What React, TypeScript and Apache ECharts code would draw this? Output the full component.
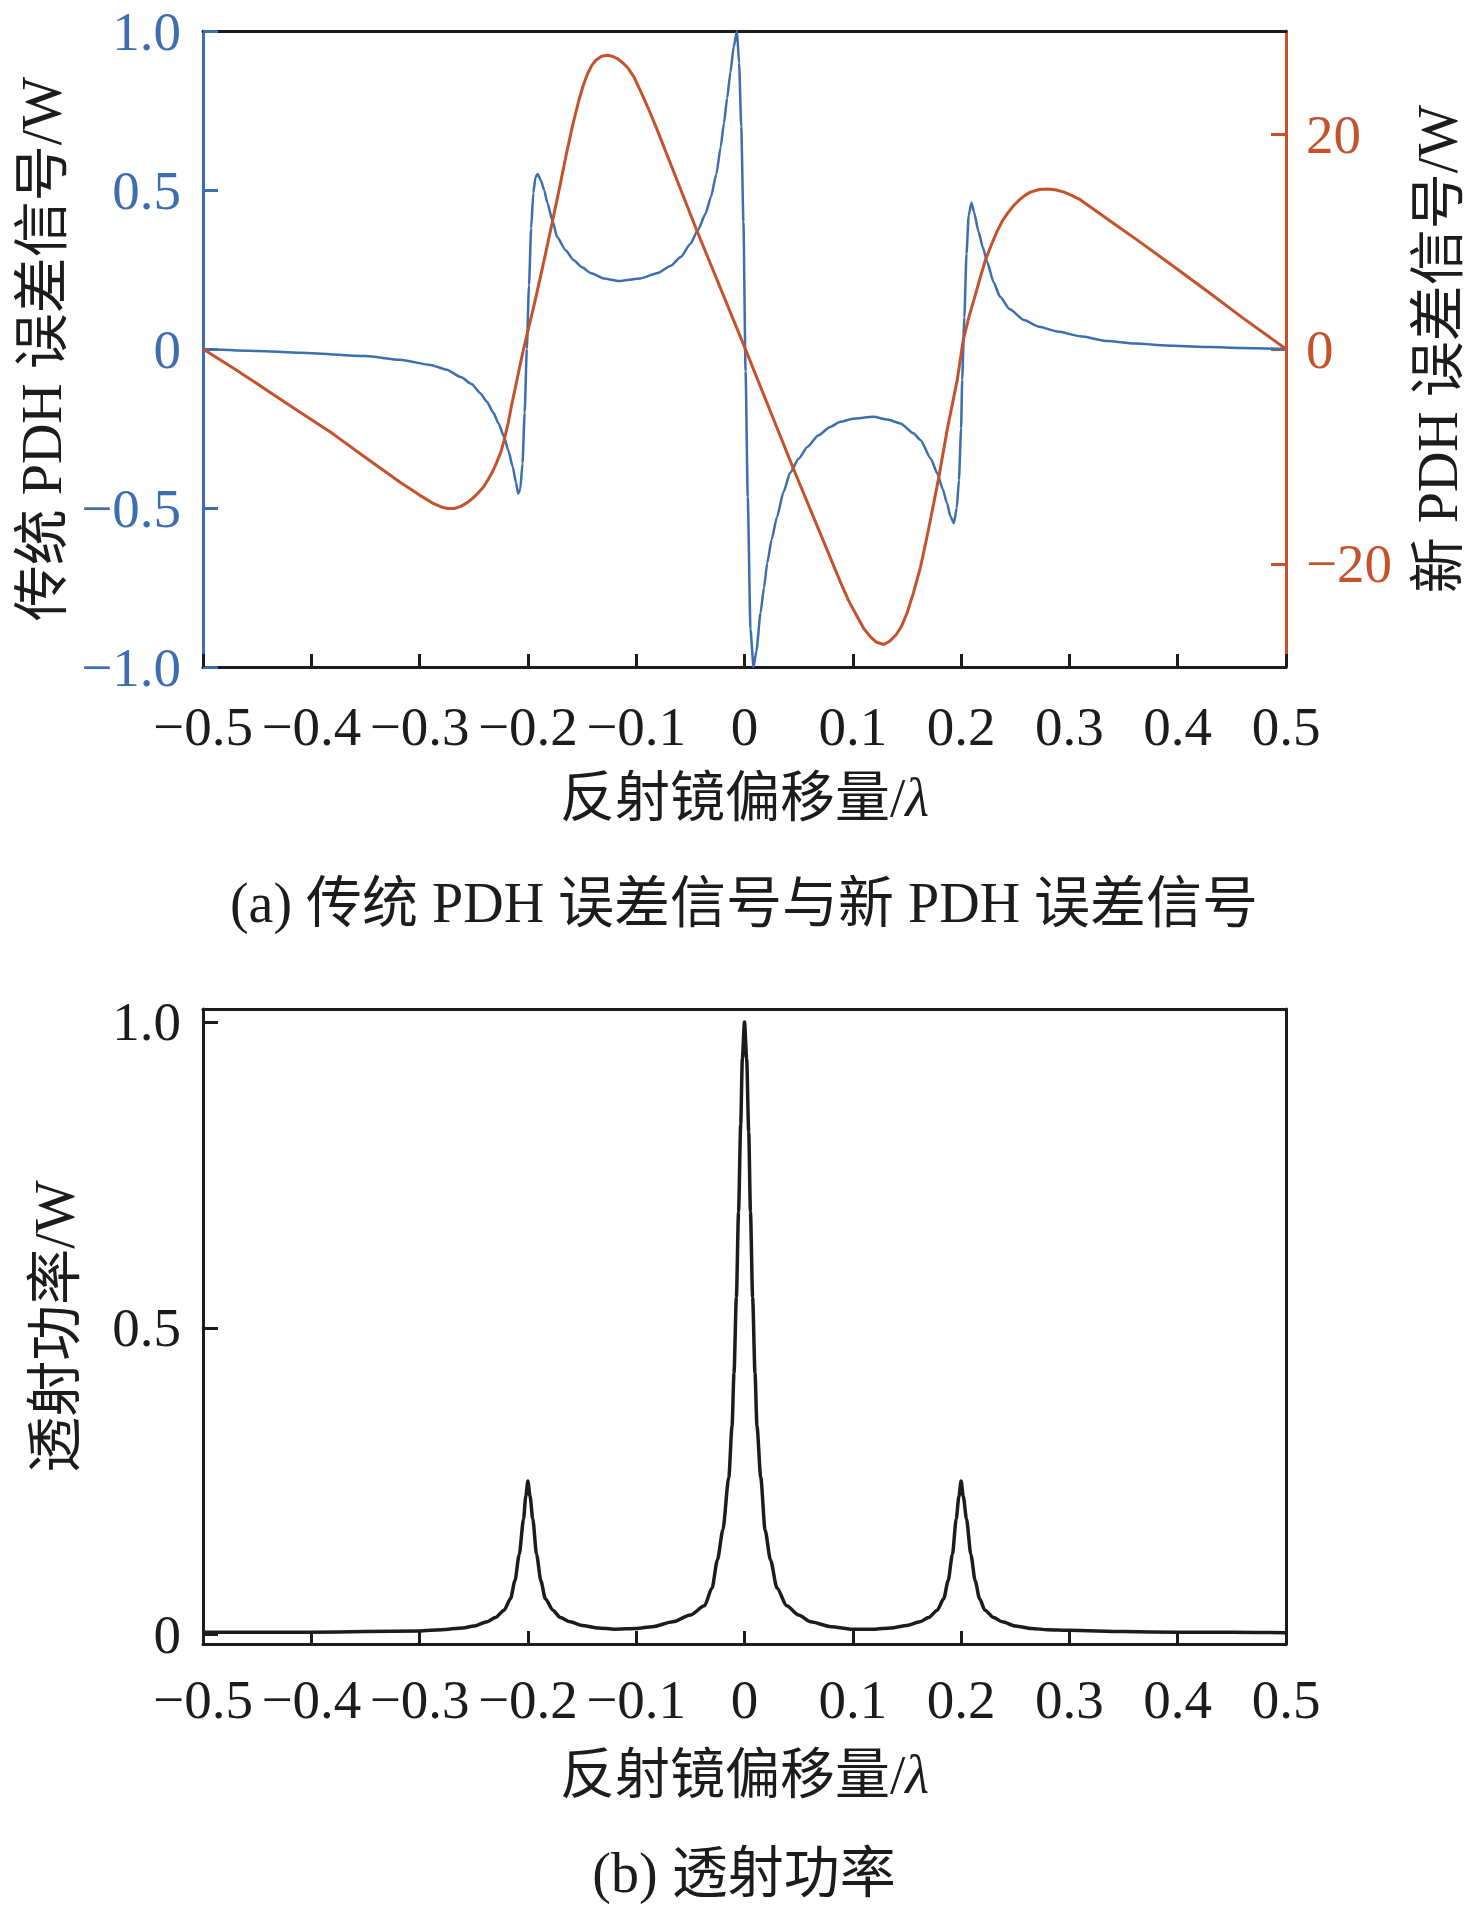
import React, { useEffect, useRef } from 'react';
import * as echarts from 'echarts';

// ---- data ----
const traditionalPDH: [number, number][] = [
  [-0.5, 0.0], [-0.45, -0.006], [-0.41, -0.012], [-0.35, -0.022], [-0.318, -0.034], [-0.29, -0.05],
  [-0.275, -0.065], [-0.262, -0.088], [-0.252, -0.11], [-0.244, -0.139], [-0.238, -0.165], [-0.232, -0.2],
  [-0.227, -0.235], [-0.222, -0.276], [-0.218, -0.32], [-0.214, -0.37], [-0.211, -0.42], [-0.209, -0.455],
  [-0.207, -0.44], [-0.205, -0.36], [-0.203, -0.2], [-0.201, 0.0], [-0.199, 0.2], [-0.197, 0.38],
  [-0.195, 0.49], [-0.193, 0.54], [-0.191, 0.55], [-0.188, 0.53], [-0.185, 0.5], [-0.182, 0.459],
  [-0.177, 0.4], [-0.173, 0.352], [-0.165, 0.31], [-0.158, 0.28], [-0.15, 0.257], [-0.142, 0.239],
  [-0.13, 0.222], [-0.116, 0.214], [-0.096, 0.222], [-0.08, 0.239], [-0.068, 0.262], [-0.059, 0.289],
  [-0.05, 0.33], [-0.043, 0.374], [-0.036, 0.425], [-0.031, 0.478], [-0.026, 0.55], [-0.022, 0.635],
  [-0.019, 0.71], [-0.016, 0.79], [-0.013, 0.87], [-0.01, 0.95], [-0.007, 1.0], [-0.005, 0.9],
  [-0.003, 0.7], [-0.001, 0.4], [0.001, -0.07], [0.003, -0.465], [0.0055, -0.88], [0.0083, -1.0],
  [0.011, -0.95], [0.0148, -0.83], [0.018, -0.75], [0.021, -0.673], [0.025, -0.6], [0.03, -0.528],
  [0.036, -0.45], [0.042, -0.39], [0.05, -0.345], [0.058, -0.308], [0.068, -0.272], [0.079, -0.245],
  [0.0886, -0.229], [0.1, -0.219], [0.119, -0.213], [0.132, -0.222], [0.144, -0.234], [0.156, -0.265],
  [0.1625, -0.286], [0.172, -0.345], [0.178, -0.391], [0.183, -0.44], [0.187, -0.485], [0.19, -0.525],
  [0.1933, -0.548], [0.196, -0.5], [0.198, -0.412], [0.2, -0.25], [0.201, -0.097], [0.203, 0.1],
  [0.205, 0.3], [0.207, 0.42], [0.2096, 0.46], [0.212, 0.43], [0.216, 0.37], [0.22, 0.32],
  [0.224, 0.274], [0.23, 0.21], [0.236, 0.164], [0.245, 0.125], [0.258, 0.091], [0.272, 0.07],
  [0.289, 0.055], [0.31, 0.04], [0.335, 0.025], [0.36, 0.017], [0.396, 0.01], [0.43, 0.006],
  [0.458, 0.003], [0.5, 0.0],
];

const newPDH: [number, number][] = [
  [-0.5, 0], [-0.47, -1.9], [-0.44, -3.9], [-0.41, -5.9], [-0.38, -7.9], [-0.35, -10.1],
  [-0.318, -12.4], [-0.3, -13.6], [-0.287, -14.4], [-0.28, -14.7], [-0.274, -14.85], [-0.268, -14.85],
  [-0.262, -14.65], [-0.256, -14.3], [-0.251, -13.9], [-0.246, -13.4], [-0.241, -12.85], [-0.237, -12.2],
  [-0.233, -11.5], [-0.229, -10.6], [-0.225, -9.6], [-0.222, -8.5], [-0.218, -6.8], [-0.215, -5.2],
  [-0.211, -3.3], [-0.207, -1.4], [-0.204, 0], [-0.1945, 4.0], [-0.186, 7.8], [-0.1776, 11.75],
  [-0.171, 14.9], [-0.165, 17.9], [-0.159, 20.7], [-0.1528, 23.2], [-0.149, 24.5], [-0.145, 25.6],
  [-0.141, 26.4], [-0.137, 26.9], [-0.132, 27.25], [-0.1268, 27.35], [-0.122, 27.25], [-0.117, 27.0],
  [-0.112, 26.6], [-0.108, 26.2], [-0.102, 25.3], [-0.095, 23.8], [-0.088, 22.2], [-0.0806, 20.4],
  [-0.0443, 11.1], [0, 0.2], [0.045, -11.1], [0.0886, -21.7], [0.096, -23.4], [0.104, -24.9],
  [0.11, -26.0], [0.1163, -26.8], [0.122, -27.3], [0.1286, -27.5], [0.134, -27.2], [0.14, -26.6],
  [0.145, -25.8], [0.15, -24.6], [0.156, -22.7], [0.1625, -20.3], [0.167, -18.2], [0.1717, -15.9],
  [0.1795, -11.9], [0.1872, -7.5], [0.1964, -2.9], [0.202, 0.84], [0.207, 2.9], [0.2125, 4.8],
  [0.2175, 6.6], [0.2225, 8.3], [0.228, 9.7], [0.233, 10.9], [0.238, 11.9], [0.243, 12.65],
  [0.249, 13.4], [0.254, 13.9], [0.259, 14.3], [0.264, 14.6], [0.272, 14.85], [0.28, 14.9],
  [0.288, 14.8], [0.295, 14.6], [0.302, 14.3], [0.31, 13.9], [0.338, 11.9], [0.366, 9.9],
  [0.396, 7.7], [0.427, 5.4], [0.46, 2.9], [0.5, 0],
];

const transmission: [number, number][] = [
  [-0.5, 0.003], [-0.45, 0.003], [-0.4, 0.003], [-0.35, 0.004], [-0.3, 0.005], [-0.28, 0.007],
  [-0.26, 0.01], [-0.25, 0.013], [-0.2375, 0.02], [-0.23, 0.027], [-0.222, 0.039], [-0.216, 0.058],
  [-0.212, 0.087], [-0.208, 0.13], [-0.204, 0.188], [-0.202, 0.225], [-0.2, 0.25], [-0.198, 0.225],
  [-0.1955, 0.188], [-0.192, 0.13], [-0.188, 0.087], [-0.184, 0.058], [-0.177, 0.039], [-0.17, 0.027],
  [-0.161, 0.02], [-0.15, 0.014], [-0.135, 0.01], [-0.12, 0.008], [-0.1, 0.009], [-0.085, 0.012],
  [-0.066, 0.02], [-0.05, 0.031], [-0.037, 0.046], [-0.03, 0.075], [-0.025, 0.121], [-0.02, 0.17],
  [-0.0145, 0.256], [-0.0115, 0.34], [-0.0097, 0.426], [-0.0075, 0.55], [-0.0055, 0.69], [-0.0035, 0.833],
  [-0.002, 0.94], [0, 1.0], [0.002, 0.94], [0.0039, 0.82], [0.0055, 0.69], [0.0075, 0.55],
  [0.0097, 0.426], [0.0115, 0.34], [0.015, 0.256], [0.019, 0.17], [0.024, 0.121], [0.03, 0.075],
  [0.039, 0.046], [0.05, 0.031], [0.061, 0.02], [0.08, 0.012], [0.1, 0.008], [0.12, 0.008],
  [0.135, 0.01], [0.15, 0.014], [0.162, 0.02], [0.17, 0.027], [0.178, 0.039], [0.184, 0.058],
  [0.188, 0.087], [0.192, 0.13], [0.1955, 0.188], [0.198, 0.225], [0.2, 0.25], [0.202, 0.225],
  [0.205, 0.188], [0.209, 0.13], [0.213, 0.087], [0.217, 0.058], [0.222, 0.039], [0.23, 0.027],
  [0.238, 0.02], [0.25, 0.013], [0.265, 0.009], [0.28, 0.007], [0.3, 0.006], [0.35, 0.004],
  [0.4, 0.003], [0.45, 0.003], [0.5, 0.002],
];

const xRange = [-0.5, 0.5];
const xInterval = 0.1;
const leftTicksA = [-1, -0.5, 0, 0.5, 1];
const rightTicksA = [-20, 0, 20];
const rightRangeA = [-29.6, 29.6];
const leftTicksB = [0, 0.5, 1];
const leftRangeB = [-0.0163, 1.0212];

const xName = '反射镜偏移量/{i|λ}';
const leftNameA = '传统 PDH 误差信号/W';
const rightNameA = '新 PDH 误差信号/W';
const leftNameB = '透射功率/W';
const captionA = '(a) 传统 PDH 误差信号与新 PDH 误差信号';
const captionB = '(b) 透射功率';

const FONT = "'Liberation Serif', 'Times New Roman', 'Noto Sans CJK SC', serif";
const BLUE = '#3d6eaf';
const RED = '#c4532d';
const BLACK = '#1c1c1c';
const TICK_FS = 55;
const NAME_FS = 55;
const YNAME_FS = 56;

function fmt(v: number): string {
  if (Math.abs(v) < 1e-9) return '0';
  return (Math.round(v * 10) / 10).toFixed(1).replace('-', '\u2212');
}
function fmtInt(v: number): string {
  if (Math.abs(v) < 1e-9) return '0';
  return String(Math.round(v)).replace('-', '\u2212');
}

function nameStyle(fs: number) {
  return {
    color: BLACK,
    fontSize: fs,
    fontFamily: FONT,
    rich: { i: { fontStyle: 'italic', fontSize: fs, fontFamily: FONT, color: BLACK } },
  };
}

function bottomX(gridIndex: number, nameGap: number, labelMargin: number) {
  return {
    gridIndex,
    type: 'value',
    min: xRange[0],
    max: xRange[1],
    interval: xInterval,
    position: 'bottom',
    axisLine: { show: true, onZero: false, lineStyle: { color: BLACK, width: 3 } },
    axisTick: { show: true, inside: true, length: 13, lineStyle: { color: BLACK, width: 3 } },
    axisLabel: { formatter: fmt, color: BLACK, fontSize: TICK_FS, fontFamily: FONT, margin: labelMargin },
    splitLine: { show: false },
    name: xName,
    nameLocation: 'middle',
    nameGap,
    nameTextStyle: nameStyle(NAME_FS),
  };
}
function topX(gridIndex: number) {
  return {
    gridIndex,
    type: 'value',
    min: xRange[0],
    max: xRange[1],
    position: 'top',
    axisLine: { show: true, onZero: false, lineStyle: { color: BLACK, width: 3 } },
    axisTick: { show: false },
    axisLabel: { show: false },
    splitLine: { show: false },
  };
}

export default function App() {
  const ref = useRef<HTMLDivElement>(null);
  useEffect(() => {
    document.body.style.margin = '0';
    if (!ref.current) return;
    const chart = echarts.init(ref.current, undefined, { renderer: 'svg' });
    chart.setOption({
      animation: false,
      backgroundColor: '#ffffff',
      grid: [
        { left: 203, top: 31, width: 1083, height: 636 },
        { left: 203, top: 1009, width: 1083, height: 635 },
      ],
      xAxis: [bottomX(0, 103, 32), topX(0), bottomX(1, 103, 28), topX(1)],
      yAxis: [
        {
          gridIndex: 0,
          type: 'value',
          min: leftTicksA[0],
          max: leftTicksA[leftTicksA.length - 1],
          interval: 0.5,
          position: 'left',
          axisLine: { show: true, onZero: false, lineStyle: { color: BLUE, width: 3 } },
          axisTick: { show: true, inside: true, length: 15, lineStyle: { color: BLUE, width: 3 } },
          axisLabel: { formatter: fmt, color: BLUE, fontSize: TICK_FS, fontFamily: FONT, margin: 22 },
          splitLine: { show: false },
          name: leftNameA,
          nameLocation: 'middle',
          nameRotate: 90,
          nameGap: 131,
          nameTextStyle: nameStyle(YNAME_FS),
        },
        {
          gridIndex: 0,
          type: 'value',
          min: rightRangeA[0],
          max: rightRangeA[1],
          position: 'right',
          axisLine: { show: true, onZero: false, lineStyle: { color: RED, width: 3 } },
          axisTick: { show: true, inside: true, length: 15, customValues: rightTicksA, lineStyle: { color: RED, width: 3 } },
          axisLabel: { customValues: rightTicksA, formatter: fmtInt, color: RED, fontSize: TICK_FS, fontFamily: FONT, margin: 20 },
          splitLine: { show: false },
          name: rightNameA,
          nameLocation: 'middle',
          nameRotate: 90,
          nameGap: 124,
          nameTextStyle: nameStyle(YNAME_FS),
        },
        {
          gridIndex: 1,
          type: 'value',
          min: leftRangeB[0],
          max: leftRangeB[1],
          position: 'left',
          axisLine: { show: true, onZero: false, lineStyle: { color: BLACK, width: 3 } },
          axisTick: { show: true, inside: true, length: 15, customValues: leftTicksB, lineStyle: { color: BLACK, width: 3 } },
          axisLabel: { customValues: leftTicksB, formatter: fmt, color: BLACK, fontSize: TICK_FS, fontFamily: FONT, margin: 22 },
          splitLine: { show: false },
          name: leftNameB,
          nameLocation: 'middle',
          nameRotate: 90,
          nameGap: 120,
          nameTextStyle: nameStyle(YNAME_FS),
        },
        {
          gridIndex: 1,
          type: 'value',
          min: leftRangeB[0],
          max: leftRangeB[1],
          position: 'right',
          axisLine: { show: true, onZero: false, lineStyle: { color: BLACK, width: 3 } },
          axisTick: { show: false },
          axisLabel: { show: false },
          splitLine: { show: false },
        },
      ],
      series: [
        {
          type: 'line',
          xAxisIndex: 0,
          yAxisIndex: 0,
          data: traditionalPDH,
          showSymbol: false,
          smooth: 0.2,
          smoothMonotone: 'x',
          lineStyle: { color: BLUE, width: 2.5 },
          itemStyle: { color: BLUE },
          emphasis: { disabled: true },
          z: 3,
        },
        {
          type: 'line',
          xAxisIndex: 0,
          yAxisIndex: 1,
          data: newPDH,
          showSymbol: false,
          smooth: false,
          lineStyle: { color: RED, width: 3, join: 'round' },
          itemStyle: { color: RED },
          emphasis: { disabled: true },
          z: 4,
        },
        {
          type: 'line',
          xAxisIndex: 2,
          yAxisIndex: 2,
          data: transmission,
          showSymbol: false,
          smooth: 0.25,
          smoothMonotone: 'x',
          lineStyle: { color: BLACK, width: 3.5 },
          itemStyle: { color: BLACK },
          emphasis: { disabled: true },
          z: 3,
        },
      ],
      graphic: [
        {
          type: 'text',
          x: 744,
          y: 903,
          style: { text: captionA, fontSize: 56, fontFamily: FONT, fill: BLACK, align: 'center', verticalAlign: 'middle' },
        },
        {
          type: 'text',
          x: 744,
          y: 1873,
          style: { text: captionB, fontSize: 56, fontFamily: FONT, fill: BLACK, align: 'center', verticalAlign: 'middle' },
        },
      ],
    });
    return () => chart.dispose();
  }, []);
  return <div ref={ref} style={{ width: 1476, height: 1909 }} />;
}
